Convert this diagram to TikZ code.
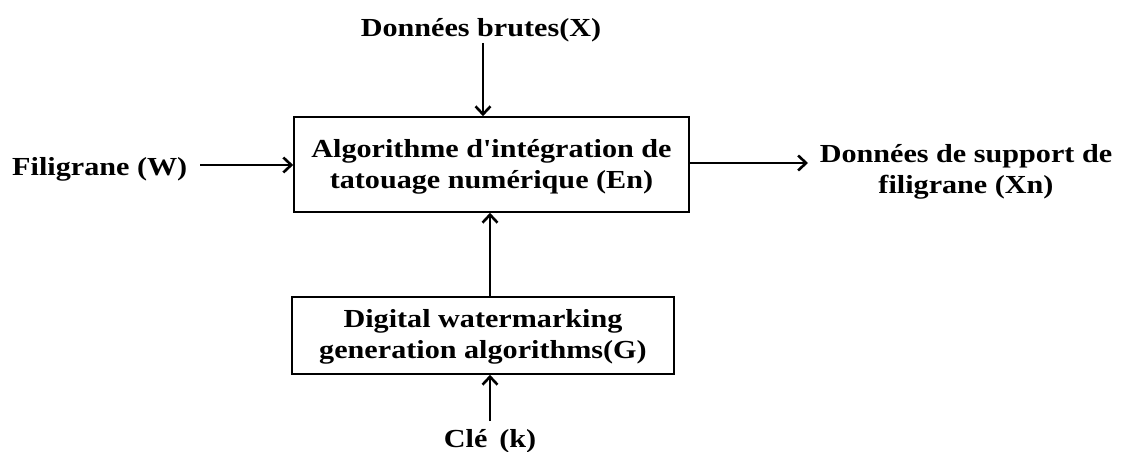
\documentclass[tikz,border=0pt]{standalone}
\usepackage{fontspec}
\setmainfont{Liberation Serif}[FakeStretch=1.16,Ligatures=TeXOff]
\usetikzlibrary{arrows.meta}
\begin{document}
\begin{tikzpicture}[x=1pt,y=-1pt,
  lbl/.style={font=\bfseries\fontsize{26}{31}\selectfont, inner sep=0pt, align=center},
  blk/.style={draw, line width=1.6pt, inner sep=0pt},
  flow/.style={line width=2.6pt, -{Straight Barb[length=8pt,width=15pt,line width=2.6pt]}}]
  \useasboundingbox (0,0) rectangle (1126,452);
  % embedding block
  \node[blk, minimum width=395pt, minimum height=95pt] (en) at (491.5,164.5) {};
  \node[lbl] (entxt) at (491.5,167) {Algorithme d'intégration de\\tatouage numérique (En)};
  % generation block
  \node[blk, minimum width=382pt, minimum height=77pt] (gen) at (483,335.5) {};
  \node[lbl] (gentxt) at (483,337) {Digital watermarking\\generation algorithms(G)};
  % inputs and output
  \node[lbl] (x) at (481,30) {Données brutes(X)};
  \coordinate (xs) at (483,43);
  \node[lbl, anchor=west] (w) at (12,169) {Filigrane (W)};
  \coordinate (ws) at (200,165);
  \node[lbl] (xn) at (966,172) {Données de support de\\filigrane (Xn)};
  \coordinate (xne) at (808,163);
  \node[lbl] (k) at (490,441) {Clé\,\ (k)};
  \coordinate (ks) at (490,421);
  % connectors
  \draw[flow] (xs) -- (xs |- en.north);
  \draw[flow] (ws) -- (ws -| en.west);
  \draw[flow] (xne -| en.east) -- (xne);
  \draw[flow] (gen.north -| 490,0) -- (490,0 |- en.south);
  \draw[flow] (ks) -- (ks |- gen.south);
\end{tikzpicture}
\end{document}
